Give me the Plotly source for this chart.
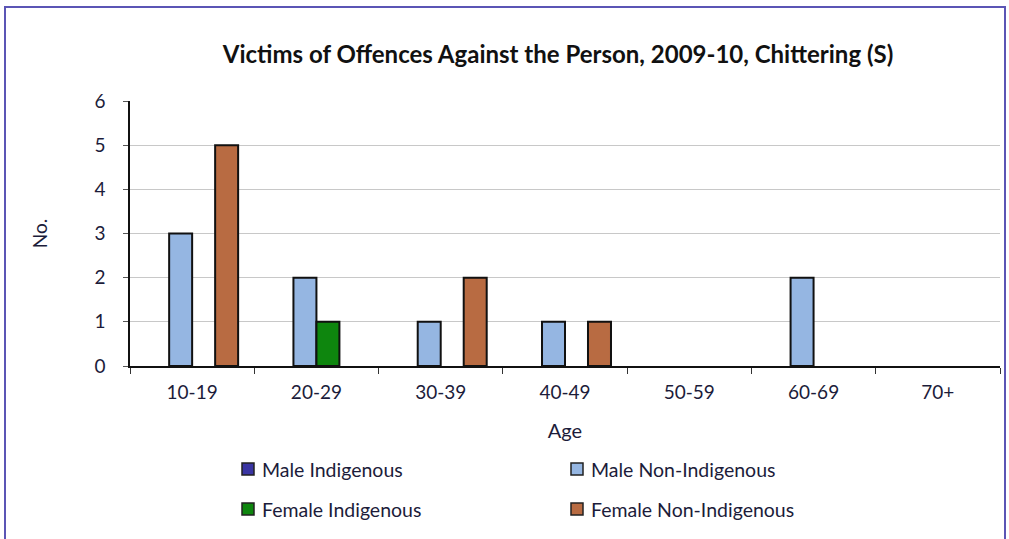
import plotly.graph_objects as go

categories = ["10-19", "20-29", "30-39", "40-49", "50-59", "60-69", "70+"]
series_names = ["Male Indigenous", "Male Non-Indigenous", "Female Indigenous", "Female Non-Indigenous"]
male_indigenous = [0, 0, 0, 0, 0, 0, 0]
male_non_indigenous = [3, 2, 1, 1, 0, 2, 0]
female_indigenous = [0, 1, 0, 0, 0, 0, 0]
female_non_indigenous = [5, 0, 2, 1, 0, 0, 0]
colors = ["#3a35a3", "#95b6e2", "#0e860e", "#b86b42"]
y_ticks = [0, 1, 2, 3, 4, 5, 6]

FONT = "Lato"
TXT = "#1c1c3a"

fig = go.Figure()
for name, vals, col in zip(series_names,
                           [male_indigenous, male_non_indigenous, female_indigenous, female_non_indigenous],
                           colors):
    fig.add_trace(go.Bar(x=categories, y=vals, name=name,
                         marker=dict(color=col,
                                     line=dict(color="#111111",
                                               width=[2 if v > 0 else 0 for v in vals]))))

L, R, T, B = 130, 9, 101, 173
W, H = 1009, 539
pw, ph = W - L - R, H - T - B

def px_x(x):
    return (x - L) / pw

def px_y(y):
    return (H - B - y) / ph

shapes = [dict(type="rect", xref="paper", yref="paper",
               x0=px_x(5), x1=px_x(1005), y0=px_y(548), y1=px_y(7),
               line=dict(color="#5b55b5", width=2), layer="below")]
annotations = []
legend_pos = [(248, 469), (577, 469), (248, 509), (577, 509)]
for (lx, ly), name, col in zip(legend_pos, series_names, colors):
    shapes.append(dict(type="rect", xref="paper", yref="paper",
                       x0=px_x(lx - 6), x1=px_x(lx + 6), y0=px_y(ly + 6), y1=px_y(ly - 6),
                       fillcolor=col, line=dict(color="#222222", width=1.5)))
    annotations.append(dict(text=name, xref="paper", yref="paper", x=px_x(lx + 12), y=px_y(ly),
                            xanchor="left", yanchor="middle", showarrow=False,
                            font=dict(family=FONT, size=19.5, color=TXT)))

fig.update_layout(
    width=W, height=H,
    margin=dict(l=L, r=R, t=T, b=B),
    paper_bgcolor="white", plot_bgcolor="white",
    barmode="group", bargap=0.26, bargroupgap=0,
    showlegend=False,
    title=dict(text="<b>Victims of Offences Against the Person, 2009-10, Chittering (S)</b>",
               x=558 / W, xanchor="center", y=1 - 55 / H, yanchor="middle",
               font=dict(family=FONT, size=24, color="#111111")),
    font=dict(family=FONT, color=TXT),
    xaxis=dict(title=dict(text="Age", font=dict(size=20, color=TXT), standoff=22),
               tickfont=dict(size=19, color=TXT), ticklabelstandoff=8,
               showline=True, linecolor="#111111", linewidth=1.5,
               ticks="outside", ticklen=6, tickcolor="#333333", tickson="boundaries",
               showgrid=False),
    yaxis=dict(title=dict(text="No.", font=dict(size=19, color=TXT), standoff=42),
               tickfont=dict(size=19, color=TXT), ticklabelstandoff=14,
               range=[0, 6], tickvals=y_ticks, ticktext=[str(v) for v in y_ticks],
               showline=True, linecolor="#111111", linewidth=1.5,
               ticks="outside", ticklen=5, tickcolor="#555555",
               showgrid=True, gridcolor="#c8c8c8", gridwidth=1.2, zeroline=False),
    shapes=shapes, annotations=annotations,
)

fig.write_html("out.html")
